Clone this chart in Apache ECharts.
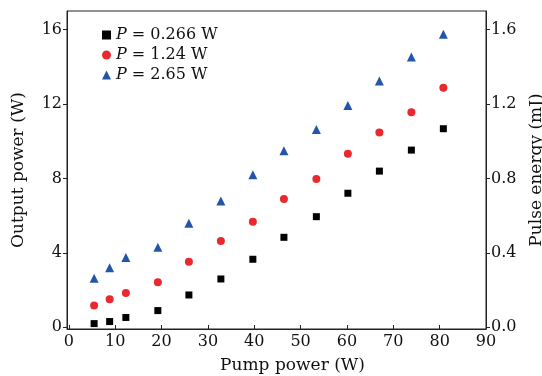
<!DOCTYPE html>
<html>
<head>
<meta charset="utf-8">
<script src="https://cdn.jsdelivr.net/npm/echarts@6/dist/echarts.min.js"></script>
<style>
html,body{margin:0;padding:0;background:#fff;}
#chart{width:542px;height:376px;}
</style>
</head>
<body>
<div id="chart"></div>
<script>
const pumpPower = [5.45, 8.8, 12.3, 19.2, 25.9, 32.8, 39.7, 46.4, 53.4, 60.2, 67.0, 73.9, 80.8];
const outP0266 = [0.19, 0.30, 0.52, 0.89, 1.73, 2.59, 3.65, 4.83, 5.94, 7.2, 8.39, 9.52, 10.67];
const outP124 = [1.16, 1.50, 1.83, 2.42, 3.51, 4.63, 5.67, 6.89, 7.96, 9.32, 10.47, 11.56, 12.87];
const outP265 = [2.63, 3.20, 3.74, 4.30, 5.59, 6.78, 8.20, 9.48, 10.63, 11.92, 13.24, 14.53, 15.75];
const seriesNames = ['P = 0.266 W', 'P = 1.24 W', 'P = 2.65 W'];
const xTicks = [0, 10, 20, 30, 40, 50, 60, 70, 80, 90];
const yTicks = [0, 4, 8, 12, 16];
const y2Ticks = [0, 0.4, 0.8, 1.2, 1.6];

const FONT = 'DejaVu Serif';
const AXC = '#222';
const pair = (ys) => pumpPower.map((x, i) => [x, ys[i]]);

const chart = echarts.init(document.getElementById('chart'), null, {renderer: 'canvas'});
chart.setOption({
  animation: false,
  backgroundColor: '#fff',
  grid: {left: 67, top: 11, right: 56, bottom: 47, show: true, borderColor: AXC, borderWidth: 1,
         containLabel: false, outerBoundsMode: 'none'},
  legend: {
    orient: 'vertical', left: 97, top: 22, itemGap: 4,
    itemWidth: 9, itemHeight: 9,
    data: seriesNames,
    formatter: (n) => '{i|P}' + n.slice(1),
    textStyle: {fontFamily: FONT, fontSize: 16, color: '#111',
      rich: {i: {fontFamily: FONT, fontStyle: 'italic', fontSize: 16, color: '#111'}}}
  },
  xAxis: {
    type: 'value', min: -0.4, max: 90,
    name: 'Pump power (W)', nameLocation: 'middle', nameGap: 28,
    nameTextStyle: {fontFamily: FONT, fontSize: 17, color: '#111', padding: [0, 0, 0, 32]},
    axisLine: {show: true, onZero: false, lineStyle: {color: AXC}},
    axisTick: {show: true, inside: true, length: 4, lineStyle: {color: AXC}, customValues: xTicks},
    axisLabel: {fontFamily: FONT, fontSize: 16, color: '#111', margin: 5, customValues: xTicks},
    splitLine: {show: false}
  },
  yAxis: [{
    type: 'value', min: -0.1, max: 17, position: 'left',
    name: 'Output power (W)', nameLocation: 'middle', nameGap: 40, nameRotate: 90,
    nameTextStyle: {fontFamily: FONT, fontSize: 17, color: '#111'},
    axisLine: {show: true, onZero: false, lineStyle: {color: AXC}},
    axisTick: {show: true, length: 4, lineStyle: {color: AXC}, customValues: yTicks},
    axisLabel: {fontFamily: FONT, fontSize: 16, color: '#111', margin: 5, customValues: yTicks},
    splitLine: {show: false}
  }, {
    type: 'value', min: -0.01, max: 1.7, position: 'right',
    name: 'Pulse energy (mJ)', nameLocation: 'middle', nameGap: 42, nameRotate: 90,
    nameTextStyle: {fontFamily: FONT, fontSize: 17, color: '#111'},
    axisLine: {show: true, onZero: false, lineStyle: {color: AXC}},
    axisTick: {show: true, length: 4, lineStyle: {color: AXC}, customValues: y2Ticks},
    axisLabel: {fontFamily: FONT, fontSize: 16, color: '#111', margin: 5, customValues: y2Ticks,
      formatter: (v) => v.toFixed(1)},
    splitLine: {show: false}
  }],
  series: [
    {name: seriesNames[0], type: 'scatter', symbol: 'rect', symbolSize: 7,
     itemStyle: {color: '#000', opacity: 1}, data: pair(outP0266)},
    {name: seriesNames[1], type: 'scatter', symbol: 'circle', symbolSize: 8,
     itemStyle: {color: '#e8292e', opacity: 1}, data: pair(outP124)},
    {name: seriesNames[2], type: 'scatter', symbol: 'triangle', symbolSize: 9,
     itemStyle: {color: '#2356a8', opacity: 1}, data: pair(outP265)}
  ]
});
</script>
</body>
</html>
